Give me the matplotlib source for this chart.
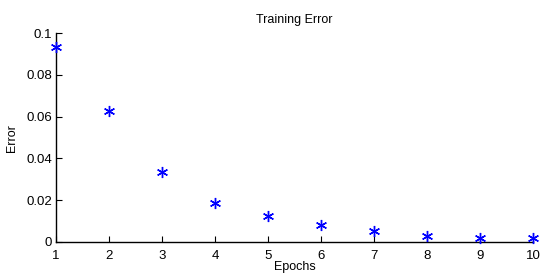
import matplotlib
matplotlib.use("Agg")
import matplotlib.pyplot as plt

# Training error per epoch
epochs = [1, 2, 3, 4, 5, 6, 7, 8, 9, 10]
errors = [0.0933, 0.0627, 0.0335, 0.0187, 0.0124, 0.0080, 0.0051, 0.0027, 0.0020, 0.0019]
yticks = [0, 0.02, 0.04, 0.06, 0.08, 0.1]
ytick_labels = ["0", "0.02", "0.04", "0.06", "0.08", "0.1"]

plt.rcParams["font.family"] = ["Liberation Sans", "DejaVu Sans"]

fig = plt.figure(figsize=(5.4, 2.73), dpi=100)
ax = fig.add_axes([0.104, 0.1136, 0.883, 0.765])
# MATLAB-style asterisk marker
ax.plot(epochs, errors, linestyle="none", marker=(6, 2, 0), color="#0000ff",
        markersize=8, markeredgewidth=1.0, clip_on=False, zorder=3)

ax.set_xlim(1, 10)
ax.set_ylim(0, 0.1)
ax.set_xticks(epochs)
ax.set_yticks(yticks)
ax.set_yticklabels(ytick_labels)
ax.tick_params(direction="in", length=4, labelsize=9.5, width=0.8)
ax.tick_params(axis="x", pad=6)
ax.tick_params(axis="y", pad=3)
ax.spines["top"].set_visible(False)
ax.spines["right"].set_visible(False)
for s in ("left", "bottom"):
    ax.spines[s].set_linewidth(1.0)

ax.set_title("Training Error", fontsize=9, pad=7)
ax.set_xlabel("Epochs", fontsize=9, labelpad=-1)
ax.set_ylabel("Error", fontsize=9, labelpad=6)

fig.savefig("out.png", dpi=100)
